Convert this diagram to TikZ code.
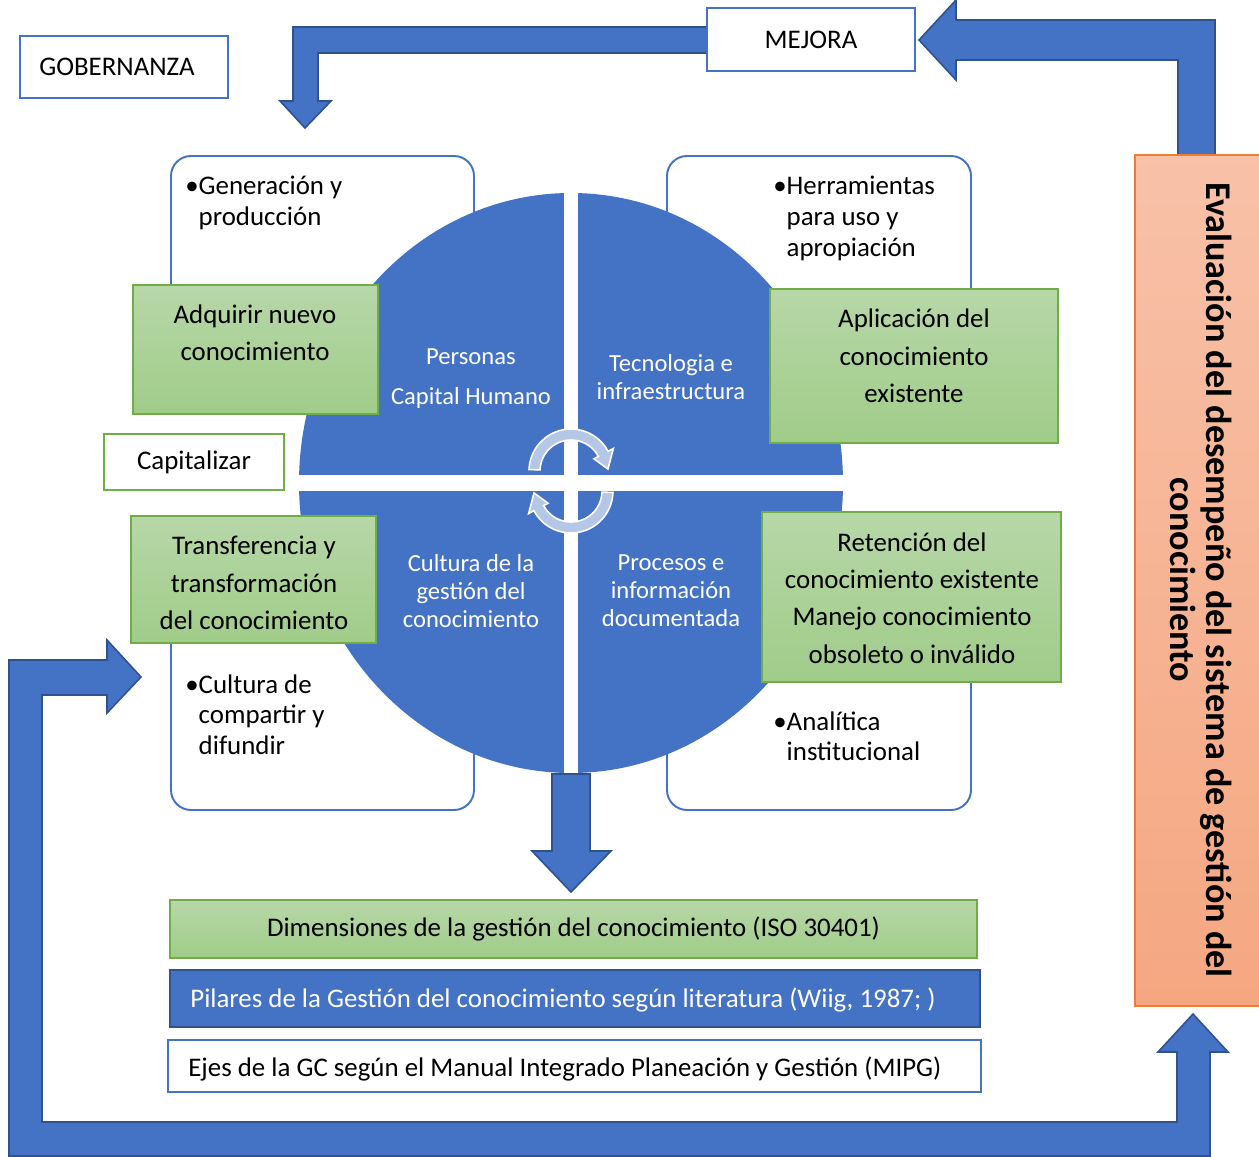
\documentclass[tikz,border=0pt]{standalone}
\usepackage{fontspec}
\setmainfont{Carlito}
\usetikzlibrary{positioning}

\definecolor{gcblue}{RGB}{68,114,196}
\definecolor{gcdark}{RGB}{47,82,143}
\definecolor{gcgreen}{RGB}{112,173,71}
\definecolor{greentop}{RGB}{183,215,168}
\definecolor{greenbot}{RGB}{160,204,137}
\definecolor{orangetop}{RGB}{248,193,168}
\definecolor{orangebot}{RGB}{245,167,129}
\definecolor{orangeline}{RGB}{237,125,49}
\definecolor{cyclefill}{RGB}{180,199,231}

\tikzset{
  blockarrow/.style={fill=gcblue, draw=gcdark, line width=0.9pt, line join=miter},
  cornerbox/.style={draw=gcblue, line width=1.1pt, fill=white, rounded corners=0.4cm},
  greenbox/.style={draw=gcgreen, line width=0.8pt, top color=greentop, bottom color=greenbot},
  whitebox/.style={draw=gcblue, line width=1.1pt, fill=white, font=\mainfs},
  cycarrow/.style={fill=cyclefill, draw=white, line width=0.9pt},
  bullettxt/.style={anchor=north west, align=left, inner sep=0pt, font=\mainfs},
  greentxt/.style={align=center, inner sep=0pt, font=\greenfs},
  circtxt/.style={align=center, inner sep=0pt, text=white, font=\circfs},
  bartxt/.style={anchor=west, inner sep=0pt, font=\mainfs},
}
\newcommand{\mainfs}{\fontsize{15.3}{17.6}\selectfont}
\newcommand{\greenfs}{\fontsize{15.3}{21.3}\selectfont}
\newcommand{\circfs}{\fontsize{14}{15.9}\selectfont}
\newcommand{\evalfs}{\fontsize{20.6}{20.4}\selectfont\bfseries}

\begin{document}
\begin{tikzpicture}[x=0.02cm, y=-0.02cm]
\useasboundingbox (0,0) rectangle (1259,1157);

% boxes behind the circle
\draw[cornerbox] (171,156) rectangle (474,400);
\draw[cornerbox] (667,156) rectangle (971,420);
\draw[cornerbox] (171,560) rectangle (474,810);
\draw[cornerbox] (667,550) rectangle (971,810);

\node[bullettxt] (gen) at (185,176) {•Generación y\\\phantom{•}producción};
\node[bullettxt] (herr) at (773,176) {•Herramientas\\\phantom{•}para uso y\\\phantom{•}apropiación};
\node[bullettxt] (comp) at (185,674) {•Cultura de\\\phantom{•}compartir y\\\phantom{•}difundir};
\node[bullettxt] (anal) at (773,711) {•Analítica\\\phantom{•}institucional};

% the four quarters
\fill[gcblue] (571,483) ellipse [x radius=272, y radius=290];
\fill[white] (564,185) rectangle (578,780);
\fill[white] (295,475) rectangle (847,491);

\node[circtxt] (pers) at (471,379) {Personas\\[6.8pt]Capital Humano};
\node[circtxt] (tecn) at (671,377) {Tecnologia e\\infraestructura};
\node[circtxt] (cult) at (471,591) {Cultura de la\\gestión del\\conocimiento};
\node[circtxt] (proc) at (671,591) {Procesos e\\información\\documentada};

% cycle arrows
\begin{scope}[shift={(571,471)}]
  \filldraw[cycarrow] (182:42) arc[start angle=182, end angle=332, radius=42]
    -- (332:48) -- (357:37) -- (332:26) -- (332:31)
    arc[start angle=332, end angle=182, radius=31] -- cycle;
\end{scope}
\begin{scope}[rotate around={180:(571,481)}, shift={(571,471)}]
  \filldraw[cycarrow] (182:42) arc[start angle=182, end angle=332, radius=42]
    -- (332:48) -- (357:37) -- (332:26) -- (332:31)
    arc[start angle=332, end angle=182, radius=31] -- cycle;
\end{scope}

% green boxes
\node[greenbox, minimum width=4.9cm, minimum height=2.58cm] (adq) at (255.5,349.5) {};
\node[greenbox, minimum width=5.76cm, minimum height=3.08cm] (apl) at (914,366) {};
\node[greenbox, minimum width=4.9cm, minimum height=2.54cm] (trf) at (253.5,579.5) {};
\node[greenbox, minimum width=5.98cm, minimum height=3.4cm] (ret) at (911.5,597) {};
\node[greentxt] (adqtxt) at (255,333) {Adquirir nuevo\\conocimiento};
\node[greentxt] (apltxt) at (914,356) {Aplicación del\\conocimiento\\existente};
\node[greentxt] (trftxt) at (254,583) {Transferencia y\\transformación\\del conocimiento};
\node[greentxt] (rettxt) at (912,598) {Retención del\\conocimiento existente\\Manejo conocimiento\\obsoleto o inválido};

\node[whitebox, draw=gcgreen, line width=1.3pt, minimum width=3.6cm, minimum height=1.12cm] (cap) at (194,462) {Capitalizar};

% block arrows
\filldraw[blockarrow] (552,774) -- (552,851) -- (532,851) -- (571,892) -- (611,851)
  -- (590,851) -- (590,774) -- cycle;
\filldraw[blockarrow] (712,27) -- (293,27) -- (293,101) -- (280,101) -- (305,128)
  -- (331,101) -- (318,101) -- (318,53) -- (712,53) -- cycle;
\filldraw[blockarrow] (1178,155) -- (1178,60) -- (956,60) -- (956,80) -- (919,40)
  -- (956,0) -- (956,20) -- (1215,20) -- (1215,155) -- cycle;
\filldraw[blockarrow] (1210,1156) -- (9,1156) -- (9,660) -- (107,660) -- (107,640)
  -- (141,677) -- (107,713) -- (107,695) -- (42,695) -- (42,1122) -- (1177,1122)
  -- (1177,1052) -- (1158,1052) -- (1193,1014) -- (1228,1052) -- (1210,1052) -- cycle;

\node[whitebox, minimum width=4.16cm, minimum height=1.24cm] (gob) at (124,67) {GOBERNANZA\hspace*{0.28cm}};
\node[whitebox, minimum width=4.16cm, minimum height=1.26cm] (mej) at (811,39.5) {MEJORA};

% evaluation box
\draw[draw=orangeline, line width=0.8pt, top color=orangetop, bottom color=orangebot]
  (1135,155) rectangle (1268,1006);
\node[rotate=-90, align=center, inner sep=0pt, font=\evalfs] (eval) at (1201,580)
  {Evaluación del desempeño del sistema de gestión del\\conocimiento};

% bottom bars
\node[greenbox, font=\mainfs, minimum width=16.14cm, minimum height=1.16cm] (dim) at (573.5,929)
  {Dimensiones de la gestión del conocimiento (ISO 30401)};
\node[fill=gcblue, draw=gcdark, line width=1.3pt, minimum width=16.2cm, minimum height=1.14cm] (pil) at (575,998.5) {};
\node[bartxt, text=white] (piltxt) at (190,1000) {Pilares de la Gestión del conocimiento según literatura (Wiig, 1987; )};
\node[whitebox, minimum width=16.26cm, minimum height=1.04cm] (ejes) at (574.5,1066) {};
\node[bartxt] (ejestxt) at (188,1069) {Ejes de la GC según el Manual Integrado Planeación y Gestión (MIPG)};
\end{tikzpicture}
\end{document}
